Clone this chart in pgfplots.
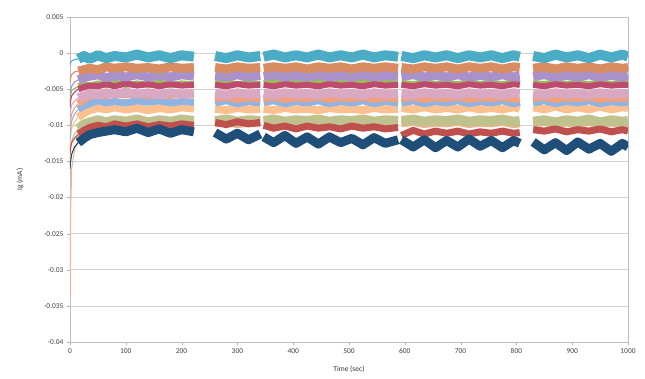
\documentclass[border=0pt]{standalone}
\usepackage{fontspec}
\setmainfont{Carlito}
\usepackage{pgfplots}
\usepackage{pgfplotstable}
\pgfplotsset{compat=1.18}
\definecolor{caqua}{HTML}{4BACC6}
\definecolor{cbrown}{HTML}{D98B61}
\definecolor{cpurple}{HTML}{A992C9}
\definecolor{cgreen}{HTML}{9BBB59}
\definecolor{cmag}{HTML}{BE4B6E}
\definecolor{cpink}{HTML}{D9A9C4}
\definecolor{csalmon}{HTML}{F4A07A}
\definecolor{clblue}{HTML}{8EB4E3}
\definecolor{corange}{HTML}{FAC090}
\definecolor{ckhaki}{HTML}{BFC28C}
\definecolor{cpeach}{HTML}{F2B48E}
\definecolor{cred}{HTML}{C0504D}
\definecolor{cnavy}{HTML}{1F4E79}
\pgfplotstableread{
t a b c g d e h f o k i r n
0 -1.6 -4.0 -6.0 -6.5 -7.5 -9.0 -10.5 -12.0 -13.0 -15.0 -34.0 -14.0 -16.0
1 -1.3 -3.4 -5.2 -5.8 -6.6 -8.0 -9.4 -10.6 -11.6 -13.4 -22.0 -13.0 -15.0
3 -1.1 -3.0 -4.6 -5.2 -5.9 -7.2 -8.4 -9.4 -10.4 -12.2 -16.0 -12.4 -14.0
8 -0.9 -2.6 -4.0 -4.9 -5.4 -6.6 -7.6 -8.4 -9.5 -11.2 -13.4 -11.8 -13.0
15 -0.8 -2.5 -3.7 -4.6 -5.0 -6.2 -7.0 -7.8 -8.9 -10.5 -12.0 -11.2 -12.4
25 -0.4 -2.3 -3.4 -4.3 -4.7 -5.9 -6.4 -7.3 -8.3 -9.9 -11.0 -10.7 -11.8
35 -0.8 -2.1 -3.2 -4.5 -4.5 -5.6 -6.0 -7.0 -7.9 -9.6 -10.5 -10.3 -11.3
50 -0.3 -2.3 -3.0 -4.2 -4.6 -5.8 -5.7 -6.6 -7.6 -9.3 -10.1 -10.0 -11.0
65 -0.7 -1.9 -3.4 -4.4 -4.3 -5.5 -5.9 -6.9 -7.8 -9.6 -9.9 -10.2 -10.8
80 -0.4 -2.1 -3.1 -4.1 -4.6 -5.7 -5.6 -6.7 -7.5 -9.3 -9.7 -9.8 -10.6
100 -0.6 -1.9 -3.3 -4.4 -4.2 -5.4 -5.8 -6.9 -7.8 -9.5 -9.9 -10.1 -10.9
120 -0.2 -2.1 -3.0 -4.2 -4.5 -5.7 -5.6 -6.6 -7.6 -9.2 -9.6 -9.8 -10.4
140 -0.6 -2.0 -3.3 -4.4 -4.3 -5.5 -5.9 -6.8 -7.9 -9.6 -9.9 -10.2 -11.0
160 -0.3 -2.2 -3.1 -4.1 -4.6 -5.8 -5.7 -6.6 -7.6 -9.3 -9.7 -9.9 -10.5
180 -0.7 -1.9 -3.3 -4.4 -4.3 -5.5 -5.9 -6.9 -7.8 -9.5 -9.9 -10.1 -11.1
200 -0.3 -2.1 -3.0 -4.2 -4.5 -5.7 -5.6 -6.7 -7.5 -9.2 -9.6 -9.8 -10.6
222 -0.5 -2.0 -3.2 -4.3 -4.4 -5.6 -5.8 -6.8 -7.7 -9.4 -9.8 -10.0 -10.9
240 nan nan nan nan nan nan nan nan nan nan nan nan nan
260 -0.4 -2.0 -3.1 -4.2 -4.4 -5.6 -6.3 -6.9 -7.7 -9.4 -9.8 -9.6 -11.0
280 -0.7 -2.2 -3.3 -4.0 -4.6 -5.8 -6.1 -6.6 -7.9 -9.2 -9.6 -9.9 -11.9
300 -0.3 -1.9 -3.0 -4.3 -4.3 -5.5 -6.4 -7.0 -7.6 -9.5 -9.9 -9.5 -11.1
320 -0.6 -2.1 -3.3 -4.1 -4.5 -5.7 -6.2 -6.7 -7.8 -9.3 -9.7 -9.8 -12.0
341 -0.4 -2.0 -3.1 -4.3 -4.4 -5.6 -6.3 -6.9 -7.7 -9.4 -9.8 -9.6 -11.2
344 nan nan nan nan nan nan nan nan nan nan nan nan nan
347 -0.5 -2.1 -3.2 -4.2 -4.4 -5.6 -6.3 -6.8 -7.7 -9.4 -9.8 -10.0 -11.6
365 -0.2 -1.9 -3.0 -4.0 -4.6 -5.8 -6.1 -6.6 -7.9 -9.2 -9.6 -10.4 -12.4
385 -0.6 -2.1 -3.3 -4.3 -4.3 -5.5 -6.4 -7.0 -7.6 -9.5 -9.9 -10.1 -11.4
405 -0.3 -1.9 -3.1 -4.1 -4.5 -5.7 -6.2 -6.7 -7.8 -9.3 -9.7 -10.5 -12.5
425 -0.6 -2.2 -3.3 -4.3 -4.4 -5.6 -6.3 -6.9 -7.7 -9.4 -9.8 -10.1 -11.6
445 -0.2 -1.9 -3.0 -4.0 -4.6 -5.8 -6.1 -6.6 -7.9 -9.2 -9.6 -10.4 -12.6
465 -0.6 -2.1 -3.3 -4.3 -4.3 -5.5 -6.4 -7.0 -7.6 -9.5 -9.9 -10.2 -11.6
485 -0.3 -1.9 -3.1 -4.1 -4.5 -5.7 -6.2 -6.7 -7.8 -9.3 -9.7 -10.5 -12.4
505 -0.6 -2.2 -3.3 -4.3 -4.4 -5.6 -6.3 -6.9 -7.7 -9.4 -9.8 -10.1 -11.8
525 -0.2 -1.9 -3.0 -4.0 -4.6 -5.8 -6.1 -6.6 -7.9 -9.2 -9.6 -10.4 -12.7
545 -0.6 -2.1 -3.3 -4.3 -4.3 -5.5 -6.4 -7.0 -7.6 -9.5 -9.9 -10.2 -11.7
565 -0.3 -1.9 -3.1 -4.1 -4.5 -5.7 -6.2 -6.7 -7.8 -9.3 -9.7 -10.5 -12.5
588 -0.5 -2.1 -3.2 -4.2 -4.4 -5.6 -6.3 -6.9 -7.7 -9.4 -9.8 -10.3 -12.0
591 nan nan nan nan nan nan nan nan nan nan nan nan nan
594 -0.4 -2.0 -3.2 -4.1 -4.4 -5.6 -6.3 -6.9 -7.6 -9.4 -9.8 -11.4 -12.0
615 -0.7 -2.2 -3.0 -4.3 -4.6 -5.8 -6.1 -6.6 -7.8 -9.2 -9.6 -10.7 -13.0
635 -0.3 -1.9 -3.3 -4.0 -4.3 -5.5 -6.4 -7.0 -7.5 -9.5 -9.9 -11.2 -12.0
655 -0.6 -2.1 -3.1 -4.3 -4.5 -5.7 -6.2 -6.7 -7.8 -9.3 -9.7 -10.8 -13.1
675 -0.3 -1.9 -3.3 -4.1 -4.4 -5.6 -6.3 -6.9 -7.6 -9.4 -9.8 -11.1 -12.1
695 -0.7 -2.2 -3.0 -4.3 -4.6 -5.8 -6.1 -6.6 -7.8 -9.2 -9.6 -10.8 -13.0
715 -0.3 -1.9 -3.3 -4.0 -4.3 -5.5 -6.4 -7.0 -7.5 -9.5 -9.9 -11.2 -11.9
735 -0.6 -2.1 -3.1 -4.3 -4.5 -5.7 -6.2 -6.7 -7.8 -9.3 -9.7 -10.9 -12.9
755 -0.3 -1.9 -3.3 -4.1 -4.4 -5.6 -6.3 -6.9 -7.6 -9.4 -9.8 -11.1 -12.1
775 -0.7 -2.2 -3.0 -4.3 -4.6 -5.8 -6.1 -6.6 -7.8 -9.2 -9.6 -10.8 -13.1
795 -0.3 -1.9 -3.3 -4.0 -4.3 -5.5 -6.4 -7.0 -7.5 -9.5 -9.9 -11.1 -12.1
806 -0.5 -2.0 -3.2 -4.2 -4.4 -5.6 -6.3 -6.8 -7.7 -9.4 -9.8 -11.0 -12.5
818 nan nan nan nan nan nan nan nan nan nan nan nan nan
830 -0.4 -2.1 -3.2 -4.1 -4.4 -5.6 -6.3 -6.9 -7.5 -9.5 -9.8 -10.6 -12.3
850 -0.7 -1.9 -3.0 -4.3 -4.6 -5.8 -6.1 -6.6 -7.8 -9.3 -9.6 -10.8 -13.4
870 -0.2 -2.2 -3.3 -4.0 -4.3 -5.5 -6.4 -7.0 -7.4 -9.6 -9.9 -10.5 -12.4
890 -0.6 -1.9 -3.1 -4.3 -4.5 -5.7 -6.2 -6.7 -7.8 -9.3 -9.7 -10.9 -13.5
910 -0.3 -2.1 -3.3 -4.1 -4.4 -5.6 -6.3 -6.9 -7.5 -9.5 -9.8 -10.6 -12.3
930 -0.7 -1.9 -3.0 -4.3 -4.6 -5.8 -6.1 -6.6 -7.8 -9.2 -9.6 -10.8 -13.3
950 -0.2 -2.2 -3.3 -4.0 -4.3 -5.5 -6.4 -7.0 -7.4 -9.6 -9.9 -10.5 -12.5
970 -0.6 -1.9 -3.1 -4.3 -4.5 -5.7 -6.2 -6.7 -7.8 -9.3 -9.7 -10.9 -13.6
990 -0.2 -2.1 -3.3 -4.1 -4.4 -5.6 -6.3 -6.9 -7.5 -9.5 -9.8 -10.6 -12.5
1000 -0.5 -2.0 -3.1 -4.2 -4.4 -5.6 -6.2 -6.8 -7.6 -9.4 -9.7 -10.8 -13.0
}\data
\pgfplotsset{
  thin part/.style={restrict x to domain=0:15, line width=1.1pt},
  thick part/.style={restrict x to domain=15:1000},
}
\newcommand\band[3]{%
  \addplot[#1, thin part] table[x=t,y=#2]{\data};
  \addplot[#1, thick part, line width=#3] table[x=t,y=#2]{\data};
}
\begin{document}
\begin{tikzpicture}
\begin{axis}[name=ax,
  width=558bp, height=325bp, scale only axis,
  xmin=0, xmax=1000, ymin=-40, ymax=5,
  xtick={0,100,...,1000},
  ytick={-40,-35,...,5},
  yticklabels={-0.04,-0.035,-0.03,-0.025,-0.02,-0.015,-0.01,-0.005,0,0.005},
  /pgf/number format/assume math mode=true,
  /pgf/number format/1000 sep={},
  ticklabel style={font=\fontsize{7.5}{9}\selectfont, text=black!75},
  label style={font=\fontsize{7.5}{9}\selectfont, text=black!80},
  ymajorgrids, grid style={black!18, line width=0.6pt},
  axis line style={black!25, line width=0.6pt},
  tick style={black!30},
  major tick length=3bp, tick align=outside,
  xtick pos=bottom, ytick pos=left,
  xlabel={Time (sec)}, ylabel={Ig (mA)},
  xlabel style={yshift=-6bp},
  ylabel style={yshift=14bp},
  unbounded coords=jump,
  every axis plot/.append style={no markers, line join=round},
]
\band{cpeach}{i}{7bp}
\band{ckhaki}{k}{10bp}
\band{corange}{o}{8bp}
\band{clblue}{f}{7bp}
\band{csalmon}{h}{7bp}
\band{cpink}{e}{9bp}
\band{cgreen}{g}{6bp}
\band{cmag}{d}{6bp}
\band{cpurple}{c}{9bp}
\band{cbrown}{b}{9bp}
\band{caqua}{a}{10bp}
\band{cred}{r}{7bp}
\band{cnavy}{n}{9bp}
\end{axis}
\path ([shift={(-70bp,-37bp)}]ax.south west) rectangle ([shift={(17bp,17bp)}]ax.north east);
\end{tikzpicture}
\end{document}
